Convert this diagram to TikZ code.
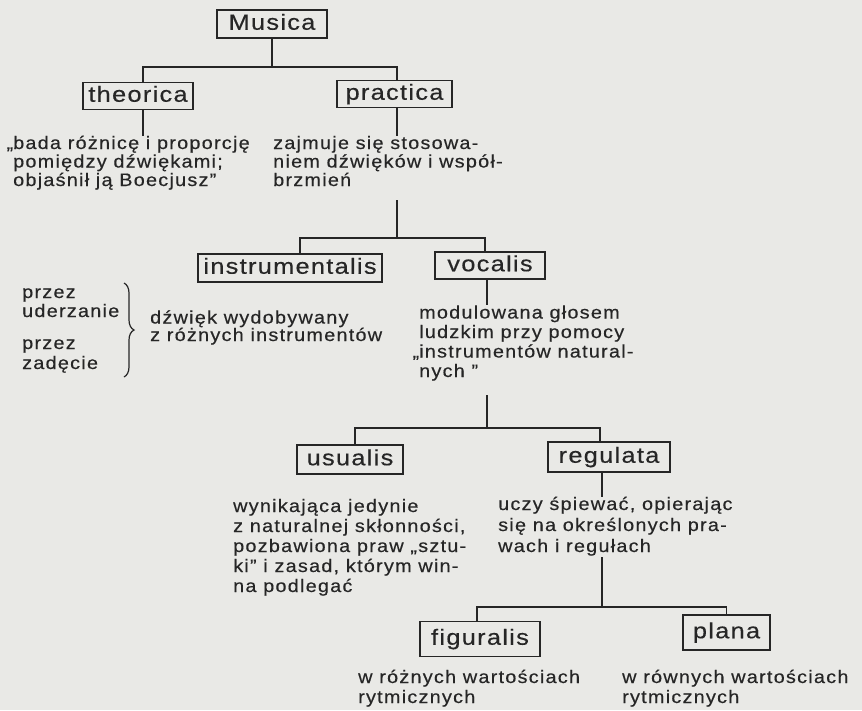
\documentclass[tikz,border=0pt]{standalone}
\usepackage{fontspec}
\setmainfont{Liberation Sans}
\newfontfamily\boxfont[LetterSpace=6,FakeStretch=1.15,FakeBold=0.4]{Liberation Sans}
\newfontfamily\txtfont[LetterSpace=7,FakeStretch=1.1,FakeBold=0.4]{Liberation Sans}
\usetikzlibrary{decorations.pathreplacing}
\definecolor{paper}{RGB}{233,233,230}
\definecolor{ink}{RGB}{38,38,38}
\newcommand{\txtsize}[1]{\txtfont\fontsize{18}{#1}\selectfont\lineskiplimit=-20pt\relax}
\begin{document}
\begin{tikzpicture}[x=1pt,y=-1pt,
  bx/.style={draw=ink, line width=1.3pt, inner sep=0pt, text height=16pt, text depth=4.5pt,
    font=\boxfont\fontsize{22}{24}\selectfont, text=ink},
  tx/.style={anchor=base west, align=left, inner sep=0pt, text=ink},
  ln/.style={draw=ink, line width=1.3pt}]
\fill[paper] (0,0) rectangle (862,710);
\useasboundingbox (0,0) rectangle (862,710);

% boxes
\node[bx, minimum width=110, minimum height=28] (musica) at (272,24) {Musica};
\node[bx, minimum width=110, minimum height=27] (theorica) at (138,96) {theorica};
\node[bx, minimum width=115, minimum height=27] (practica) at (394.5,94) {practica};
\node[bx, minimum width=184, minimum height=28] (instrumentalis) at (290,268) {instrumentalis};
\node[bx, minimum width=110, minimum height=27] (vocalis) at (490,265.5) {vocalis};
\node[bx, minimum width=106, minimum height=29] (usualis) at (350,459.5) {usualis};
\node[bx, minimum width=122, minimum height=30] (regulata) at (609,457) {regulata};
\node[bx, minimum width=120, minimum height=35] (figuralis) at (480,639) {figuralis};
\node[bx, minimum width=87, minimum height=35] (plana) at (726.5,632.5) {plana};

% texts (anchored at the baseline of the last line)
\node[tx, font=\txtsize{18.5}] (ttheo) at (13,186)
  {\llap{„}bada różnicę i proporcję\\pomiędzy dźwiękami;\\objaśnił ją Boecjusz”};
\node[tx, font=\txtsize{18.5}] (tprac) at (273,186)
  {zajmuje się stosowa-\\niem dźwięków i współ-\\brzmień};
\node[tx, font=\txtsize{17.5}] (tinstr) at (150,341)
  {dźwięk wydobywany\\z różnych instrumentów};
\node[tx, font=\txtsize{19}] (tprz1) at (22,317)
  {przez\\uderzanie};
\node[tx, font=\txtsize{20}] (tprz2) at (22,369)
  {przez\\zadęcie};
\node[tx, font=\txtsize{19.5}] (tvoc) at (419,377)
  {modulowana głosem\\ludzkim przy pomocy\\\llap{„}instrumentów natural-\\nych ”};
\node[tx, font=\txtsize{20}] (tusu) at (233,592)
  {wynikająca jedynie\\z naturalnej skłonności,\\pozbawiona praw „sztu-\\ki” i zasad, którym win-\\na podlegać};
\node[tx, font=\txtsize{21}] (treg) at (498,552)
  {uczy śpiewać, opierając\\się na określonych pra-\\wach i regułach};
\node[tx, font=\txtsize{20}] (tfig) at (358,703)
  {w różnych wartościach\\rytmicznych};
\node[tx, font=\txtsize{20}] (tpla) at (622,703)
  {w równych wartościach\\rytmicznych};

% brace
\draw[ln, line width=1.2pt, decorate, decoration={brace, amplitude=10pt}] (124,283) -- (124,377);

% connectors
\coordinate (j1) at (272,67);
\draw[ln] (musica.south) -- (j1);
\draw[ln] ([xshift=5pt]theorica.north) |- (j1) -| ([xshift=2.5pt]practica.north);
\draw[ln] ([xshift=5pt]theorica.south) -- ([xshift=5pt]theorica.south |- ttheo.north);
\draw[ln] ([xshift=2.5pt]practica.south) -- ([xshift=2.5pt]practica.south |- tprac.north);

\coordinate (s2) at (397,200);
\coordinate (j2) at (397,238);
\draw[ln] (s2) -- (j2);
\draw[ln] ([xshift=10pt]instrumentalis.north) |- (j2) -| ([xshift=-5pt]vocalis.north);
\draw[ln] ([xshift=-3pt]vocalis.south) -- ([xshift=-3pt]vocalis.south |- tvoc.north);

\coordinate (s3) at (487,395);
\coordinate (j3) at (487,428);
\draw[ln] (s3) -- (j3);
\draw[ln] ([xshift=5pt]usualis.north) |- (j3) -| ([xshift=-9pt]regulata.north);
\draw[ln] ([xshift=-7pt]regulata.south) -- ([xshift=-7pt]regulata.south |- treg.north);

\coordinate (s4) at (602,557);
\coordinate (j4) at (602,607);
\draw[ln] (s4) -- (j4);
\draw[ln] ([xshift=-3pt]figuralis.north) |- (j4) -| (plana.north);
\end{tikzpicture}
\end{document}
